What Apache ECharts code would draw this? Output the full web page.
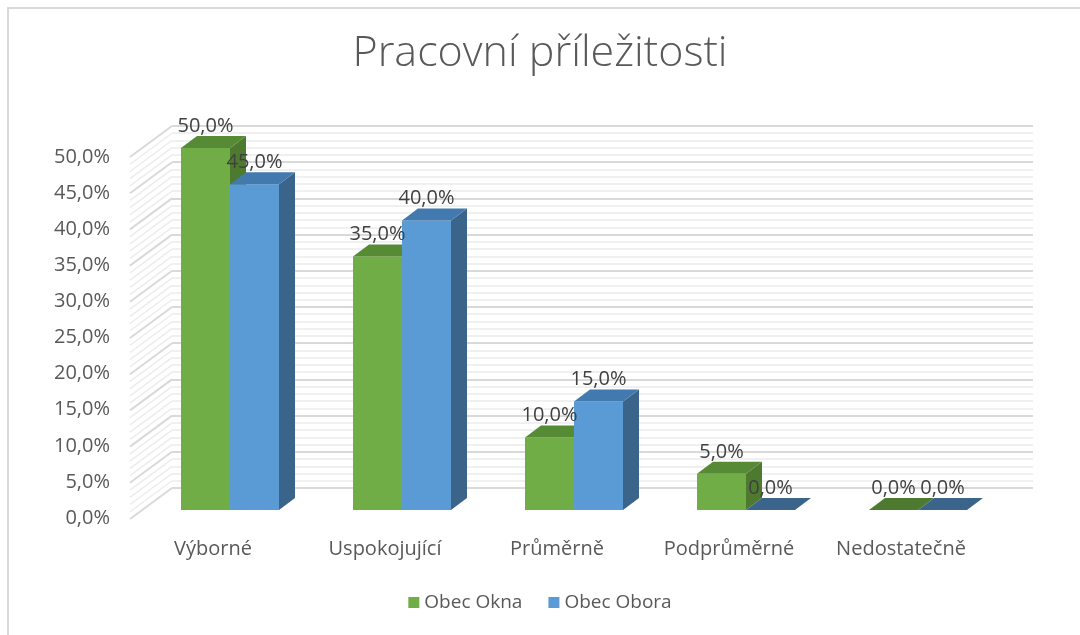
<!DOCTYPE html>
<html>
<head>
<meta charset="utf-8">
<script src="https://cdn.jsdelivr.net/npm/echarts@6/dist/echarts.min.js"></script>
<style>
  html, body { margin: 0; padding: 0; background: #fff; }
  #chart { width: 1080px; height: 635px; }
</style>
</head>
<body>
<div id="chart"></div>
<script>
// data
const categories = ['Výborné', 'Uspokojující', 'Průměrně', 'Podprůměrné', 'Nedostatečně'];
const obecOkna = [50, 35, 10, 5, 0];
const obecObora = [45, 40, 15, 0, 0];
const seriesNames = ['Obec Okna', 'Obec Obora'];
const yTicks = [0, 5, 10, 15, 20, 25, 30, 35, 40, 45, 50];

const chart = echarts.init(document.getElementById('chart'));

// barvy: predni stena, vrsek, bok
const palette = [
    { front: '#70AD47', top: '#568A35', side: '#4E7A2F' },
    { front: '#5B9BD5', top: '#4279AE', side: '#3A6489' }
];
const BAR_W = 49;
const DX = 16, DY = -12;       // hloubka sloupce
const WALL_DX = -42, WALL_DY = 31; // bocni stena

function fmt(v) {
    return v.toFixed(1).replace('.', ',') + '%';
}

function barRender(sIdx) {
    return function (params, api) {
        const c = api.value(0);
        const v = api.value(1);
        const base = api.coord([c, 0]);
        const top = api.coord([c, v]);
        const x0 = sIdx === 0 ? base[0] - BAR_W : base[0];
        const x1 = x0 + BAR_W;
        const by = base[1], ty = top[1];
        const col = palette[sIdx];
        const children = [];
        if (v > 0) {
            children.push({
                type: 'rect',
                shape: { x: x0, y: ty, width: BAR_W, height: by - ty },
                style: { fill: col.front }
            });
            children.push({
                type: 'polygon',
                shape: { points: [[x1, ty], [x1 + DX, ty + DY], [x1 + DX, by + DY], [x1, by]] },
                style: { fill: col.side }
            });
        }
        children.push({
            type: 'polygon',
            shape: { points: [[x0, ty], [x0 + DX, ty + DY], [x1 + DX, ty + DY], [x1, ty]] },
            style: { fill: v > 0 ? col.top : col.side }
        });
        children.push({
            type: 'text',
            z2: 100,
            style: {
                x: (x0 + x1) / 2, y: ty - 22,
                text: fmt(v),
                align: 'center', verticalAlign: 'middle',
                fill: '#404040',
                font: '20px "Open Sans", sans-serif'
            }
        });
        return { type: 'group', children: children };
    };
}

// bocni stena - sikme cary
const wallLines = [];
for (let v = 0; v <= 50; v++) wallLines.push([0, v]);

chart.setOption({
    animation: false,
    title: {
        text: 'Pracovní příležitosti',
        left: 'center',
        top: 27,
        textStyle: { fontFamily: 'Open Sans', fontWeight: 300, fontSize: 43, color: '#595959' }
    },
    legend: {
        bottom: 18,
        left: 'center',
        icon: 'rect',
        itemWidth: 11,
        itemHeight: 11,
        itemGap: 26,
        data: seriesNames,
        textStyle: { fontFamily: 'Open Sans', fontSize: 19, color: '#595959' }
    },
    graphic: [{
        type: 'rect',
        shape: { x: 8, y: 8, width: 1200, height: 800 },
        style: { fill: 'none', stroke: '#d9d9d9', lineWidth: 2 },
        silent: true
    }],
    grid: [
        { left: 144, right: 76, top: 148, bottom: 125 },  // predni rovina sloupcu
        { left: 127, right: 93, top: 157, bottom: 117 },  // popisky os
        { left: 172, right: 47, top: 126, bottom: 147 }   // zadni stena
    ],
    xAxis: [
        { type: 'category', gridIndex: 0, data: categories, show: false },
        {
            type: 'category', gridIndex: 1, data: categories,
            axisLine: { show: false }, axisTick: { show: false },
            axisLabel: { margin: 21, color: '#595959', fontFamily: 'Open Sans', fontSize: 20 }
        },
        { type: 'value', gridIndex: 2, min: 0, max: 1, show: false }
    ],
    yAxis: [
        { type: 'value', gridIndex: 0, min: 0, max: 50, show: false },
        {
            type: 'value', gridIndex: 1, min: 0, max: 50, interval: 5,
            axisLine: { show: false }, axisTick: { show: false },
            splitLine: { show: false },
            axisLabel: {
                margin: 17, color: '#595959', fontFamily: 'Open Sans', fontSize: 20,
                formatter: function (v) { return fmt(v); }
            }
        },
        {
            type: 'value', gridIndex: 2, min: 0, max: 50, interval: 5,
            axisLine: { show: false }, axisTick: { show: false }, axisLabel: { show: false },
            splitLine: { show: true, lineStyle: { color: '#d9d9d9', width: 2 } },
            minorTick: { show: false, splitNumber: 5 },
            minorSplitLine: { show: true, lineStyle: { color: '#ececec', width: 1.5 } }
        }
    ],
    series: [
        {
            type: 'custom',
            name: 'wall',
            xAxisIndex: 2, yAxisIndex: 2,
            silent: true,
            data: wallLines,
            renderItem: function (params, api) {
                const v = api.value(1);
                const p = api.coord([0, v]);
                const major = v % 5 === 0;
                return {
                    type: 'line',
                    shape: { x1: p[0], y1: p[1], x2: p[0] + WALL_DX, y2: p[1] + WALL_DY },
                    style: { stroke: major ? '#d9d9d9' : '#ececec', lineWidth: major ? 2 : 1.5 }
                };
            }
        },
        {
            type: 'custom',
            name: seriesNames[0],
            xAxisIndex: 0, yAxisIndex: 0,
            itemStyle: { color: palette[0].front },
            data: obecOkna.map(function (v, i) { return [i, v]; }),
            renderItem: barRender(0)
        },
        {
            type: 'custom',
            name: seriesNames[1],
            xAxisIndex: 0, yAxisIndex: 0,
            itemStyle: { color: palette[1].front },
            data: obecObora.map(function (v, i) { return [i, v]; }),
            renderItem: barRender(1)
        }
    ]
});
</script>
</body>
</html>
